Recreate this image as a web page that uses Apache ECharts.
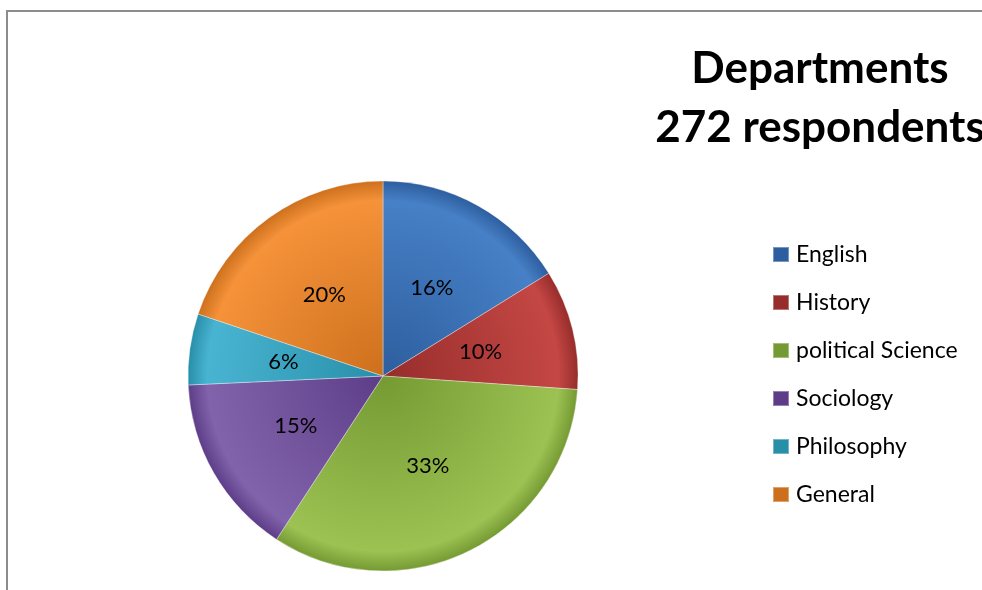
<!DOCTYPE html>
<html>
<head>
<meta charset="utf-8">
<title>Departments</title>
<script src="https://cdn.jsdelivr.net/npm/echarts@6/dist/echarts.min.js"></script>
<style>
  html, body { margin: 0; padding: 0; background: #fff; }
  #chart { width: 982px; height: 590px; }
</style>
</head>
<body>
<div id="chart"></div>
<script>
// 数据：各系受访人数（共 272 人）
const departments = ['English', 'History', 'political Science', 'Sociology', 'Philosophy', 'General']
const respondents = [44, 27, 90, 41, 16, 54]
// 颜色：[中心, 边缘]
const sliceColors = [
  ['#2d5e9f', '#4780c6'],
  ['#962d2b', '#c44744'],
  ['#759a33', '#9cc253'],
  ['#5d3d88', '#8163ab'],
  ['#288fa9', '#49b4d2'],
  ['#cd701d', '#f5923a']
]
const legendColors = ['#3a6db4', '#b33d3a', '#8bb146', '#704f9c', '#36a1c0', '#e8852c']

const cx = 383
const cy = 376
const radius = 195

const chart = echarts.init(document.getElementById('chart'))

const option = {
  animation: false,
  color: legendColors,
  title: {
    text: 'Departments\n272 respondents',
    left: 815,
    top: 34,
    textAlign: 'center',
    textStyle: {
      fontFamily: 'Lato',
      fontSize: 44,
      fontWeight: 'bold',
      color: '#000',
      lineHeight: 59
    }
  },
  legend: {
    orient: 'vertical',
    left: 767,
    top: 238,
    itemWidth: 16,
    itemHeight: 15,
    itemGap: 25,
    icon: 'rect',
    data: departments,
    textStyle: {
      fontFamily: 'Lato',
      fontSize: 23,
      color: '#000',
      padding: [0, 0, 0, 2]
    }
  },
  graphic: [
    {
      type: 'rect',
      silent: true,
      z: -10,
      shape: { x: 7, y: 11, width: 1000, height: 620 },
      style: { fill: 'none', stroke: '#8c8c8c', lineWidth: 2 }
    }
  ],
  series: [
    {
      type: 'pie',
      center: [cx, cy],
      radius: [0, radius],
      startAngle: 90,
      clockwise: true,
      percentPrecision: 0,
      label: {
        show: true,
        position: 'inside',
        formatter: '{d}%',
        fontFamily: 'Lato',
        fontSize: 22,
        color: '#000'
      },
      labelLine: { show: false },
      emphasis: { scale: false },
      itemStyle: {
        borderColor: 'rgba(255,255,255,0.35)',
        borderWidth: 1
      },
      data: departments.map((name, i) => ({
        name: name,
        value: respondents[i],
        itemStyle: {
          color: {
            type: 'radial',
            x: cx,
            y: cy,
            r: radius,
            global: true,
            colorStops: [
              { offset: 0, color: sliceColors[i][0] },
              { offset: 0.9, color: sliceColors[i][1] },
              { offset: 1, color: sliceColors[i][0] }
            ]
          }
        }
      }))
    }
  ]
}

chart.setOption(option)
</script>
</body>
</html>
